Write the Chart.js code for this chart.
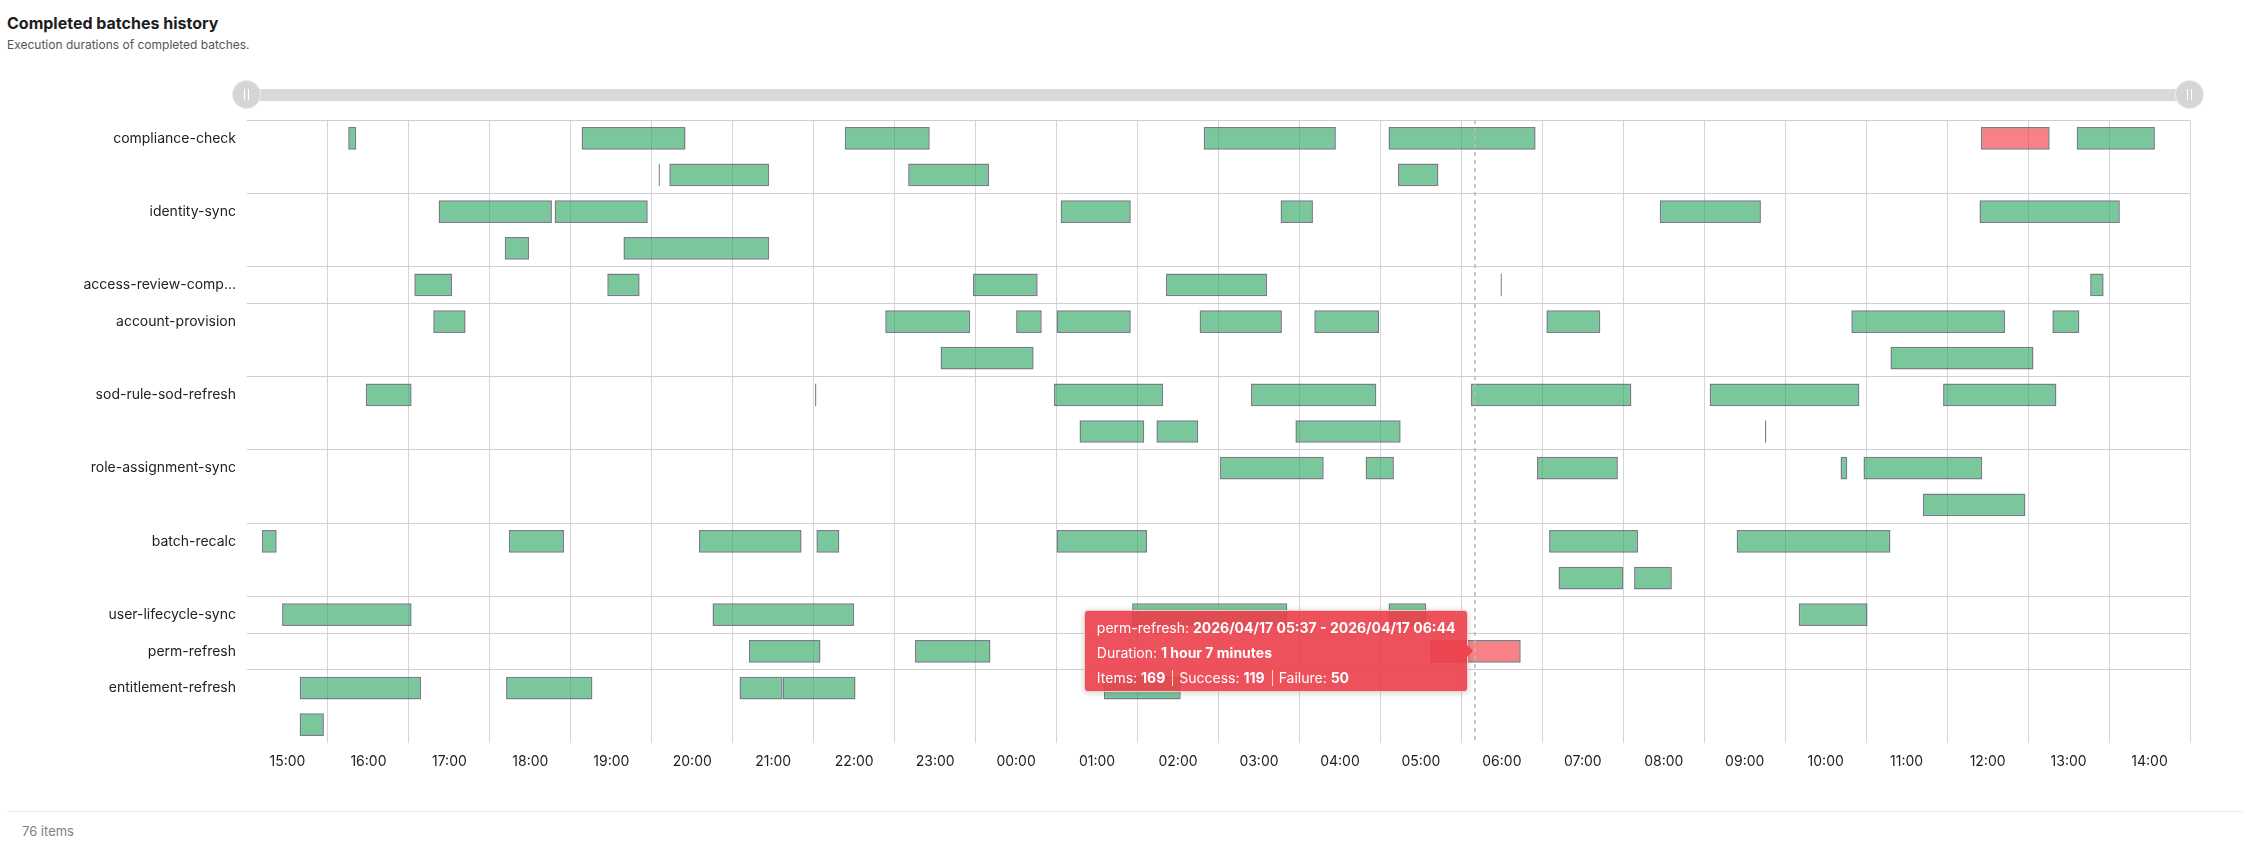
<!DOCTYPE html>
<html>
<head>
<meta charset="utf-8">
<title>Completed batches history</title>
<script src="https://cdn.jsdelivr.net/npm/chart.js@4.4.1/dist/chart.umd.min.js"></script>
<style>
  body {
    margin: 0;
    background: #fff;
    font-family: Inter, 'Noto Sans', sans-serif;
    width: 2251px;
    height: 851px;
    position: relative;
    overflow: hidden;
  }
  .title { position: absolute; left: 7px; top: 12px; font-size: 16px; font-weight: 700; color: #1d1d1f; line-height: 22px; }
  .subtitle { position: absolute; left: 7px; top: 37px; font-size: 12px; color: #555; line-height: 16px; }
  .track { position: absolute; left: 247px; top: 89px; width: 1943px; height: 12px; background: #d9d9d9; }
  .handle {
    position: absolute; top: 81px; width: 27px; height: 27px; margin-left: -14px;
    border-radius: 50%; background: #d5d5d5; box-shadow: 0 0 0 1px #ececec;
  }
  .handle::before, .handle::after {
    content: ''; position: absolute; top: 8px; width: 1px; height: 11px; background: #fff;
  }
  .handle::before { left: 11px; }
  .handle::after { left: 15px; }
  #chartBox { position: absolute; left: 0; top: 110px; }
  .footer { position: absolute; left: 7px; right: 8px; top: 811px; border-top: 1px solid #ececec; }
  .count { position: absolute; left: 22px; top: 822px; font-size: 13px; color: #808080; line-height: 18px; }
  #tip {
    position: absolute; display: none; white-space: nowrap;
    background: rgba(234, 62, 74, 0.9); color: #fff;
    font-size: 14px; line-height: 25px; padding: 4px 12px 1px 12px;
    border-radius: 4px; border: 1px solid rgba(255, 255, 255, 0.7);
    box-shadow: 0 1px 6px rgba(0, 0, 0, 0.18);
  }
  #tip b { font-weight: 700; }
  #tip .sep { display: inline-block; width: 1px; height: 16px; background: rgba(255, 232, 175, 0.95); margin: 0 6px 0 7px; vertical-align: -3px; }
  #tip::after {
    content: ''; position: absolute; right: -6px; top: 50%; margin-top: -6px;
    border-top: 6px solid transparent; border-bottom: 6px solid transparent;
    border-left: 6px solid rgba(234, 62, 74, 0.9);
  }
</style>
</head>
<body>
<div class="title">Completed batches history</div>
<div class="subtitle">Execution durations of completed batches.</div>
<div class="track"></div>
<div class="handle" style="left:247px"></div>
<div class="handle" style="left:2190px"></div>
<div id="chartBox"><canvas id="history" width="2251" height="680"></canvas></div>
<div id="tip"></div>
<div class="footer"></div>
<div class="count" id="count"></div>

<script>
// batch names, top to bottom, and how many lanes each one uses
const categories = [
  'compliance-check', 'identity-sync', 'access-review-compliance', 'account-provision',
  'sod-rule-sod-refresh', 'role-assignment-sync', 'batch-recalc', 'user-lifecycle-sync',
  'perm-refresh', 'entitlement-refresh'
];
const laneCounts = [2, 2, 1, 2, 2, 2, 2, 1, 1, 2];

const hourLabels = [
  '15:00', '16:00', '17:00', '18:00', '19:00', '20:00', '21:00', '22:00', '23:00', '00:00',
  '01:00', '02:00', '03:00', '04:00', '05:00', '06:00', '07:00', '08:00', '09:00', '10:00',
  '11:00', '12:00', '13:00', '14:00'
];

// [batch, lane, start, end, failed]
const runs = [
  ['compliance-check', 0, '16:15', '16:21', false],
  ['compliance-check', 0, '19:08', '20:25', false],
  ['compliance-check', 0, '22:23', '23:26', false],
  ['compliance-check', 0, '02:49', '04:27', false],
  ['compliance-check', 0, '05:06', '06:55', false],
  ['compliance-check', 0, '12:25', '13:16', true],
  ['compliance-check', 0, '13:36', '14:34', false],
  ['compliance-check', 1, '20:05', '20:06', false],
  ['compliance-check', 1, '20:13', '21:27', false],
  ['compliance-check', 1, '23:10', '00:10', false],
  ['compliance-check', 1, '05:13', '05:43', false],

  ['identity-sync', 0, '17:22', '18:46', false],
  ['identity-sync', 0, '18:48', '19:57', false],
  ['identity-sync', 0, '01:03', '01:55', false],
  ['identity-sync', 0, '03:46', '04:10', false],
  ['identity-sync', 0, '08:27', '09:42', false],
  ['identity-sync', 0, '12:24', '14:08', false],
  ['identity-sync', 1, '18:11', '18:29', false],
  ['identity-sync', 1, '19:39', '21:27', false],

  ['access-review-compliance', 0, '17:04', '17:32', false],
  ['access-review-compliance', 0, '19:27', '19:51', false],
  ['access-review-compliance', 0, '23:58', '00:46', false],
  ['access-review-compliance', 0, '02:21', '03:36', false],
  ['access-review-compliance', 0, '06:29', '06:30', false],
  ['access-review-compliance', 0, '13:46', '13:56', false],

  ['account-provision', 0, '17:18', '17:42', false],
  ['account-provision', 0, '22:53', '23:56', false],
  ['account-provision', 0, '00:30', '00:49', false],
  ['account-provision', 0, '01:00', '01:55', false],
  ['account-provision', 0, '02:46', '03:47', false],
  ['account-provision', 0, '04:11', '04:59', false],
  ['account-provision', 0, '07:03', '07:43', false],
  ['account-provision', 0, '10:49', '12:43', false],
  ['account-provision', 0, '13:18', '13:38', false],
  ['account-provision', 1, '23:34', '00:43', false],
  ['account-provision', 1, '11:18', '13:04', false],

  ['sod-rule-sod-refresh', 0, '16:28', '17:02', false],
  ['sod-rule-sod-refresh', 0, '22:01', '22:02', false],
  ['sod-rule-sod-refresh', 0, '00:58', '02:19', false],
  ['sod-rule-sod-refresh', 0, '03:24', '04:57', false],
  ['sod-rule-sod-refresh', 0, '06:07', '08:06', false],
  ['sod-rule-sod-refresh', 0, '09:04', '10:55', false],
  ['sod-rule-sod-refresh', 0, '11:57', '13:21', false],
  ['sod-rule-sod-refresh', 1, '01:17', '02:05', false],
  ['sod-rule-sod-refresh', 1, '02:14', '02:45', false],
  ['sod-rule-sod-refresh', 1, '03:57', '05:15', false],
  ['sod-rule-sod-refresh', 1, '09:45', '09:46', false],

  ['role-assignment-sync', 0, '03:01', '04:18', false],
  ['role-assignment-sync', 0, '04:49', '05:10', false],
  ['role-assignment-sync', 0, '06:56', '07:56', false],
  ['role-assignment-sync', 0, '10:41', '10:46', false],
  ['role-assignment-sync', 0, '10:58', '12:26', false],
  ['role-assignment-sync', 1, '11:42', '12:58', false],

  ['batch-recalc', 0, '15:11', '15:22', false],
  ['batch-recalc', 0, '18:14', '18:55', false],
  ['batch-recalc', 0, '20:35', '21:51', false],
  ['batch-recalc', 0, '22:02', '22:19', false],
  ['batch-recalc', 0, '01:00', '02:07', false],
  ['batch-recalc', 0, '07:05', '08:11', false],
  ['batch-recalc', 0, '09:24', '11:18', false],
  ['batch-recalc', 1, '07:12', '08:00', false],
  ['batch-recalc', 1, '08:08', '08:36', false],

  ['user-lifecycle-sync', 0, '15:26', '17:02', false],
  ['user-lifecycle-sync', 0, '20:45', '22:30', false],
  ['user-lifecycle-sync', 0, '01:56', '03:51', false],
  ['user-lifecycle-sync', 0, '05:06', '05:34', false],
  ['user-lifecycle-sync', 0, '10:10', '11:01', false],

  ['perm-refresh', 0, '21:12', '22:05', false],
  ['perm-refresh', 0, '23:15', '00:11', false],
  ['perm-refresh', 0, '05:37', '06:44', true],

  ['entitlement-refresh', 0, '15:39', '17:09', false],
  ['entitlement-refresh', 0, '18:12', '19:16', false],
  ['entitlement-refresh', 0, '21:05', '21:37', false],
  ['entitlement-refresh', 0, '21:37', '22:31', false],
  ['entitlement-refresh', 0, '01:35', '02:32', false],
  ['entitlement-refresh', 1, '15:39', '15:57', false]
];

// hovered state shown in the picture
const cursorTime = '06:10';
const tooltipDate = '2026/04/17';
const tooltipRun = ['perm-refresh', '05:37', '06:44'];
const tooltipCounts = [169, 119, 50]; // items, success, failure

// hours since the first label (15:00), wrapping past midnight
function toHours(t) {
  const [h, m] = t.split(':').map(Number);
  return (h - 15 + 24) % 24 + m / 60;
}

function shortName(name) {
  return name.length > 20 ? name.slice(0, 18) + '...' : name;
}

// one category per lane
const laneKeys = [];
const groupStarts = new Set();
categories.forEach((name, i) => {
  groupStarts.add(laneKeys.length);
  for (let l = 0; l < laneCounts[i]; l++) laneKeys.push(name + '#' + l);
});

const barData = runs.map(r => ({ x: [toHours(r[2]), toHours(r[3])], y: r[0] + '#' + r[1] }));
const fills = runs.map(r => r[4] ? 'rgba(242, 45, 52, 0.6)' : 'rgba(40, 165, 95, 0.62)');

const cursorPlugin = {
  id: 'cursor',
  afterDatasetsDraw(chart) {
    const { ctx, chartArea, scales } = chart;
    const x = scales.x.getPixelForValue(toHours(cursorTime));
    ctx.save();
    ctx.strokeStyle = '#b9b9b9';
    ctx.lineWidth = 1.5;
    ctx.setLineDash([4, 4]);
    ctx.beginPath();
    ctx.moveTo(x, chartArea.top);
    ctx.lineTo(x, chartArea.bottom);
    ctx.stroke();
    ctx.restore();
  },
  afterRender(chart) {
    const tip = document.getElementById('tip');
    if (tip.dataset.done) return;
    tip.dataset.done = '1';
    const mins = Math.round((toHours(tooltipRun[2]) - toHours(tooltipRun[1])) * 60);
    const h = Math.floor(mins / 60), m = mins % 60;
    const dur = (h ? h + (h > 1 ? ' hours ' : ' hour ') : '') + m + ' minutes';
    tip.innerHTML =
      tooltipRun[0] + ': <b>' + tooltipDate + ' ' + tooltipRun[1] + ' - ' + tooltipDate + ' ' + tooltipRun[2] + '</b><br>' +
      'Duration: <b>' + dur + '</b><br>' +
      'Items: <b>' + tooltipCounts[0] + '</b><span class="sep"></span>' +
      'Success: <b>' + tooltipCounts[1] + '</b><span class="sep"></span>' +
      'Failure: <b>' + tooltipCounts[2] + '</b>';
    tip.style.display = 'block';
    const box = document.getElementById('chartBox');
    const x = chart.scales.x.getPixelForValue(toHours(cursorTime));
    const y = chart.scales.y.getPixelForValue(laneKeys.indexOf(tooltipRun[0] + '#0'));
    tip.style.left = (box.offsetLeft + x - 6 - tip.offsetWidth) + 'px';
    tip.style.top = (box.offsetTop + y - tip.offsetHeight / 2) + 'px';
  }
};

new Chart(document.getElementById('history'), {
  type: 'bar',
  data: {
    datasets: [{
      data: barData,
      backgroundColor: fills,
      borderColor: 'rgba(85, 94, 108, 0.8)',
      borderWidth: 1.5,
      borderSkipped: false,
      barPercentage: 0.62,
      categoryPercentage: 1,
      xAxisID: 'x',
      yAxisID: 'y'
    }]
  },
  options: {
    indexAxis: 'y',
    responsive: false,
    animation: false,
    devicePixelRatio: 1,
    events: [],
    layout: { padding: { top: 10, right: 61, left: 0, bottom: 0 } },
    plugins: {
      legend: { display: false },
      tooltip: { enabled: false }
    },
    scales: {
      x: {
        type: 'linear',
        position: 'bottom',
        min: 0,
        max: 24,
        ticks: { display: false, stepSize: 1, maxTicksLimit: 30 },
        grid: {
          drawTicks: false,
          color: ctx => (ctx.tick && ctx.tick.value === 0) ? 'rgba(0,0,0,0)' : '#d6d6d6'
        },
        border: { display: false }
      },
      xl: {
        type: 'category',
        position: 'bottom',
        labels: hourLabels,
        offset: true,
        grid: { display: false, drawTicks: false },
        border: { display: false },
        ticks: {
          color: '#222',
          font: { family: 'Inter', size: 14 },
          padding: 10,
          autoSkip: false,
          maxRotation: 0
        },
        afterFit: s => { s.height = 47; }
      },
      y: {
        type: 'category',
        labels: laneKeys,
        offset: true,
        grid: {
          offset: true,
          drawTicks: false,
          color: ctx => (ctx.index !== undefined && groupStarts.has(ctx.index)) ? '#cfcfcf' : 'rgba(0,0,0,0)'
        },
        border: { display: false },
        ticks: {
          color: '#222',
          font: { family: 'Inter', size: 14 },
          padding: 11,
          autoSkip: false,
          callback: function(value, index) {
            const parts = laneKeys[index].split('#');
            return parts[1] === '0' ? shortName(parts[0]) : '';
          }
        },
        afterFit: s => {
          s.width = 247;
          s.paddingTop = 0;
          s.paddingBottom = 0;
        }
      }
    }
  },
  plugins: [cursorPlugin]
});

document.getElementById('count').textContent = runs.length + ' items';
</script>
</body>
</html>
